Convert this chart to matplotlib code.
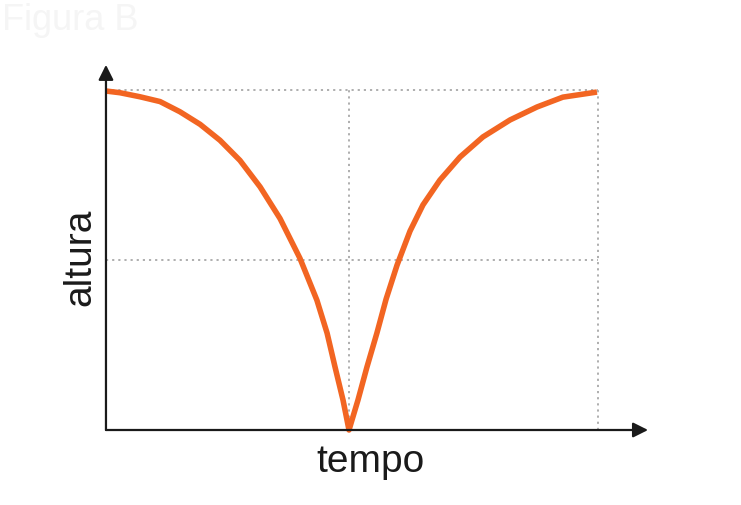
import matplotlib
matplotlib.use("Agg")
import matplotlib.pyplot as plt

plt.rcParams["font.family"] = ["Liberation Sans", "DejaVu Sans"]

# pontos (tempo, altura)
tempo = [0.024, 0.080, 0.161, 0.241, 0.321, 0.402, 0.482, 0.562, 0.643, 0.723, 0.803,
         0.871, 0.912, 0.944, 0.976, 1.0,
         1.036, 1.072, 1.112, 1.149, 1.193, 1.245, 1.297, 1.365, 1.446, 1.538, 1.647,
         1.755, 1.859, 1.996]
altura = [0.997, 0.992, 0.980, 0.966, 0.936, 0.899, 0.852, 0.793, 0.715, 0.622, 0.505,
          0.382, 0.285, 0.185, 0.088, 0.0,
          0.088, 0.185, 0.285, 0.385, 0.485, 0.585, 0.662, 0.735, 0.803, 0.862, 0.912,
          0.950, 0.979, 0.994]
grade_h = [0.5, 1.0]
grade_v = [1.0, 2.0]
t0 = 0.024  # posicao do eixo vertical

W, H = 741, 505
fig = plt.figure(figsize=(W / 100, H / 100), dpi=100)
ax = fig.add_axes([100 / W, (H - 430) / H, (598 - 100) / W, (430 - 90) / H])
ax.set_xlim(0, 2)
ax.set_ylim(0, 1)
ax.axis("off")

# grade pontilhada
for h in grade_h:
    ax.plot([t0, 2], [h, h], color="#a8a8a8", lw=1.3, ls=(0, (1.2, 2.2)), clip_on=False, zorder=1)
for t in grade_v:
    ax.plot([t, t], [0, 1], color="#a8a8a8", lw=1.3, ls=(0, (1.2, 2.2)), clip_on=False, zorder=1)

# eixos com setas
seta = dict(arrowstyle="-|>,head_length=0.9,head_width=0.45", color="#1a1a1a", lw=1.6,
            shrinkA=0, shrinkB=0)
ax.annotate("", xy=(2.201, 0), xytext=(t0, 0), arrowprops=seta, annotation_clip=False, zorder=3)
ax.annotate("", xy=(t0, 1.074), xytext=(t0, 0), arrowprops=seta, annotation_clip=False, zorder=3)

ax.plot(tempo, altura, color="#f26522", lw=4.0, solid_joinstyle="round",
        solid_capstyle="butt", clip_on=False, zorder=2)

fig.text(371 / W, 1 - 462 / H, "tempo", fontsize=28, ha="center", va="center", color="#1a1a1a")
fig.text(80 / W, 1 - 257 / H, "altura", fontsize=28, ha="center", va="center",
         rotation=90, color="#1a1a1a")
fig.text(2 / W, 1 - 20 / H, "Figura B", fontsize=26, ha="left", va="center", color="#f5f5f5")

fig.savefig("out.png", dpi=100)
